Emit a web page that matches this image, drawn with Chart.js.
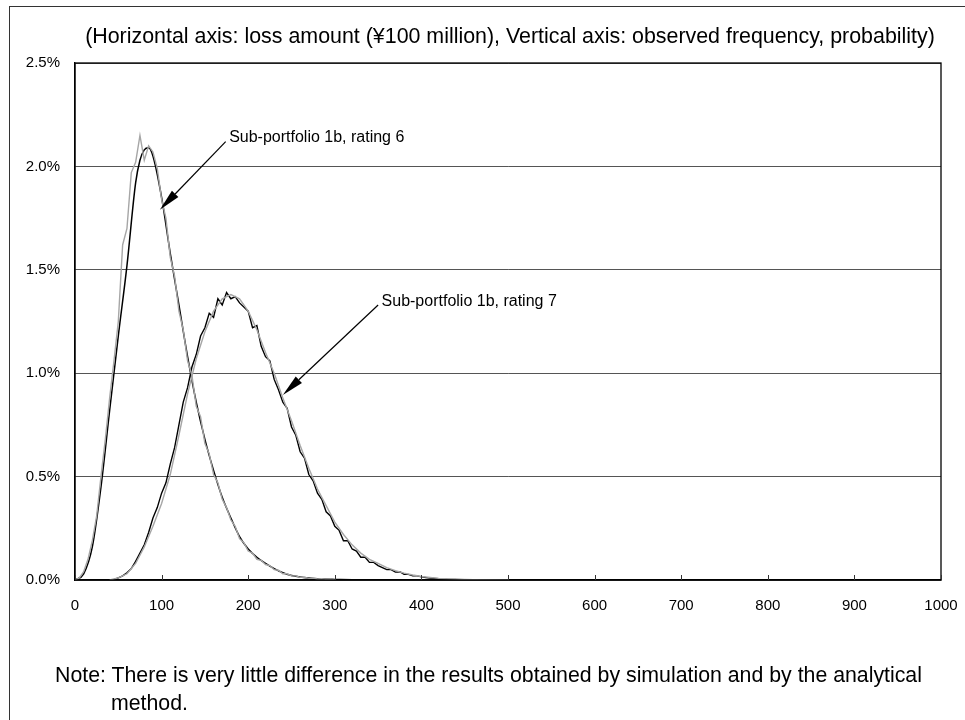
<!DOCTYPE html>
<html>
<head>
<meta charset="utf-8">
<script src="https://cdn.jsdelivr.net/npm/chart.js@4.4.1/dist/chart.umd.min.js"></script>
<style>
    html, body { margin: 0; padding: 0; background: #fff; overflow: hidden; }
    #wrap { position: relative; width: 965px; height: 720px; font-family: "Liberation Sans", Arial, sans-serif; }
    #frame { position: absolute; left: 9px; top: 6px; width: 1000px; height: 1000px; border-left: 1px solid #333; border-top: 1px solid #333; }
    #chart { position: absolute; left: 0; top: 0; }
    #title { position: absolute; left: 0; width: 1020px; top: 24px; text-align: center; font-size: 21.4px; color: #000; white-space: nowrap; }
    #note { position: absolute; left: 55px; top: 661px; font-size: 21.3px; color: #000; line-height: 28px; white-space: nowrap; }
    #note .cont { padding-left: 56px; }
</style>
</head>
<body>
<div id="wrap">
    <div id="frame"></div>
    <canvas id="chart" width="965" height="720"></canvas>
    <div id="title">(Horizontal axis: loss amount (¥100 million), Vertical axis: observed frequency, probability)</div>
    <div id="note">Note: There is very little difference in the results obtained by simulation and by the analytical<br><span class="cont">method.</span></div>
</div>
<script>
// --- Data (loss in ¥100 million, probability in %) ---
const xTicks = [0, 100, 200, 300, 400, 500, 600, 700, 800, 900, 1000];
const yTicks = [0, 0.5, 1.0, 1.5, 2.0, 2.5];

// rating 6, analytical (smooth, black)
const anaX6 = [0, 10, 20, 30, 40, 50, 60, 70, 75, 80, 85, 90, 100, 110, 120, 130, 140, 150, 160, 170, 180, 190, 200, 210, 220, 230, 240, 250, 260, 270, 280, 290, 300, 320, 350];
const anaY6 = [0, 0.03, 0.16, 0.45, 0.82, 1.18, 1.52, 1.92, 2.03, 2.08, 2.09, 2.05, 1.85, 1.58, 1.33, 1.08, 0.86, 0.68, 0.53, 0.40, 0.30, 0.21, 0.15, 0.11, 0.08, 0.055, 0.035, 0.022, 0.015, 0.01, 0.006, 0.004, 0.003, 0.001, 0];

// rating 6, simulation (noisy, gray)
const simX6 = [0, 5, 10, 15, 20, 25, 30, 35, 40, 45, 50, 55, 60, 65, 70, 75, 80, 85, 90, 95, 100, 105, 110, 115, 120, 125, 130, 135, 140, 145, 150, 155, 160, 165, 170, 175, 180, 185, 190, 195, 200, 205, 210, 215, 220, 225, 230, 235, 240, 245, 250, 255, 260, 265, 270, 275, 280, 285, 290, 295, 300];
const simY6 = [0, 0.01, 0.04, 0.10, 0.19, 0.31, 0.50, 0.68, 0.88, 1.06, 1.25, 1.62, 1.70, 1.97, 2.02, 2.15, 2.03, 2.10, 2.07, 1.99, 1.84, 1.75, 1.56, 1.47, 1.30, 1.21, 1.06, 0.99, 0.84, 0.79, 0.66, 0.61, 0.51, 0.47, 0.39, 0.35, 0.29, 0.26, 0.20, 0.18, 0.14, 0.13, 0.10, 0.095, 0.075, 0.07, 0.05, 0.047, 0.03, 0.03, 0.02, 0.02, 0.013, 0.014, 0.008, 0.009, 0.005, 0.006, 0.003, 0.004, 0.002];

// rating 7, analytical (smooth, gray)
const anaX7 = [40, 50, 60, 70, 80, 90, 100, 110, 120, 130, 140, 150, 160, 170, 180, 190, 200, 210, 220, 230, 240, 250, 260, 270, 280, 290, 300, 310, 320, 330, 340, 350, 360, 370, 380, 390, 400, 420, 440, 460, 500];
const anaY7 = [0, 0.01, 0.03, 0.08, 0.16, 0.26, 0.37, 0.51, 0.70, 0.90, 1.07, 1.20, 1.30, 1.36, 1.38, 1.36, 1.30, 1.21, 1.10, 1.00, 0.88, 0.77, 0.65, 0.54, 0.44, 0.36, 0.28, 0.22, 0.17, 0.13, 0.10, 0.08, 0.06, 0.045, 0.033, 0.024, 0.017, 0.008, 0.004, 0.002, 0];

// rating 7, simulation (noisy, black)
const simX7 = [40, 45, 50, 55, 60, 65, 70, 75, 80, 85, 90, 95, 100, 105, 110, 115, 120, 125, 130, 135, 140, 145, 150, 155, 160, 165, 170, 175, 180, 185, 190, 195, 200, 205, 210, 215, 220, 225, 230, 235, 240, 245, 250, 255, 260, 265, 270, 275, 280, 285, 290, 295, 300, 305, 310, 315, 320, 325, 330, 335, 340, 345, 350, 355, 360, 365, 370, 375, 380, 385, 390, 395, 400, 405, 410, 415, 420, 430, 440, 450];
const simY7 = [0, 0.003, 0.01, 0.02, 0.035, 0.055, 0.09, 0.13, 0.17, 0.23, 0.30, 0.35, 0.42, 0.47, 0.56, 0.64, 0.75, 0.86, 0.93, 1.03, 1.09, 1.18, 1.22, 1.29, 1.27, 1.36, 1.33, 1.39, 1.36, 1.37, 1.34, 1.32, 1.30, 1.22, 1.23, 1.13, 1.08, 1.06, 0.97, 0.92, 0.86, 0.83, 0.74, 0.70, 0.62, 0.59, 0.51, 0.48, 0.42, 0.39, 0.33, 0.31, 0.26, 0.24, 0.19, 0.19, 0.15, 0.14, 0.11, 0.11, 0.085, 0.085, 0.07, 0.06, 0.05, 0.05, 0.038, 0.04, 0.028, 0.027, 0.02, 0.02, 0.015, 0.012, 0.01, 0.008, 0.006, 0.004, 0.003, 0.002];

// annotations: label text, label anchor, arrow tail, arrow tip (data units)
const noteLabels = ['Sub-portfolio 1b, rating 6', 'Sub-portfolio 1b, rating 7'];
const noteText = [[178, 2.14], [354, 1.345]];
const noteTail = [[174, 2.12], [350, 1.33]];
const noteTip = [[98, 1.79], [240, 0.895]];

const toPoints = (xs, ys) => xs.map((x, i) => ({ x: x, y: ys[i] }));

const FONT = '"Liberation Sans", Arial, sans-serif';

// plot frame, inner x ticks, arrows + labels
const decorPlugin = {
    id: 'decor',
    afterDraw(chart) {
        const ctx = chart.ctx;
        const a = chart.chartArea;
        const xs = chart.scales.x, ys = chart.scales.y;
        ctx.save();
        ctx.strokeStyle = '#000';
        ctx.lineWidth = 1.3;
        ctx.strokeRect(a.left, a.top, a.right - a.left, a.bottom - a.top);
        // small inner tick marks on the x axis
        ctx.lineWidth = 1;
        ctx.strokeStyle = '#333';
        xTicks.forEach(v => {
            const px = Math.round(xs.getPixelForValue(v)) + 0.5;
            ctx.beginPath();
            ctx.moveTo(px, a.bottom);
            ctx.lineTo(px, a.bottom - 5);
            ctx.stroke();
        });
        // arrows
        noteLabels.forEach((txt, i) => {
            const tx = xs.getPixelForValue(noteTail[i][0]), ty = ys.getPixelForValue(noteTail[i][1]);
            const hx = xs.getPixelForValue(noteTip[i][0]), hy = ys.getPixelForValue(noteTip[i][1]);
            const ang = Math.atan2(hy - ty, hx - tx);
            const len = 22, half = 4.5;
            const bx = hx - len * Math.cos(ang), by = hy - len * Math.sin(ang);
            ctx.strokeStyle = '#000';
            ctx.fillStyle = '#000';
            ctx.lineWidth = 1.2;
            ctx.beginPath();
            ctx.moveTo(tx, ty);
            ctx.lineTo(bx, by);
            ctx.stroke();
            ctx.beginPath();
            ctx.moveTo(hx, hy);
            ctx.lineTo(bx + half * Math.sin(ang), by - half * Math.cos(ang));
            ctx.lineTo(bx - half * Math.sin(ang), by + half * Math.cos(ang));
            ctx.closePath();
            ctx.fill();
            ctx.font = '16px ' + FONT;
            ctx.textAlign = 'left';
            ctx.textBaseline = 'middle';
            ctx.fillText(txt, xs.getPixelForValue(noteText[i][0]), ys.getPixelForValue(noteText[i][1]));
        });
        ctx.restore();
    }
};

const lineStyle = (color, width) => ({
    borderColor: color,
    borderWidth: width,
    pointRadius: 0,
    fill: false,
    tension: 0
});

new Chart(document.getElementById('chart'), {
    type: 'line',
    data: {
        datasets: [
            Object.assign({ label: 'Rating 6 simulation', data: toPoints(simX6, simY6) }, lineStyle('#a6a6a6', 1.4)),
            Object.assign({ label: 'Rating 7 analytical', data: toPoints(anaX7, anaY7) }, lineStyle('#a6a6a6', 1.4)),
            Object.assign({ label: 'Rating 6 analytical', data: toPoints(anaX6, anaY6), cubicInterpolationMode: 'monotone' }, lineStyle('#000', 1.5)),
            Object.assign({ label: 'Rating 7 simulation', data: toPoints(simX7, simY7) }, lineStyle('#000', 1.4))
        ]
    },
    options: {
        responsive: false,
        animation: false,
        events: [],
        layout: { padding: { left: 0, right: 24, top: 63, bottom: 0 } },
        plugins: {
            legend: { display: false },
            tooltip: { enabled: false }
        },
        scales: {
            x: {
                type: 'linear',
                min: 0,
                max: 1000,
                afterFit: s => { s.height = 140; s.paddingLeft = 0; s.paddingRight = 0; },
                afterBuildTicks: s => { s.ticks = xTicks.map(v => ({ value: v })); },
                grid: { display: false, drawTicks: false },
                border: { display: true, color: '#000', width: 1.3 },
                ticks: {
                    color: '#000',
                    padding: 17,
                    maxRotation: 0,
                    font: { family: FONT, size: 15 },
                    callback: v => String(v)
                }
            },
            y: {
                min: 0,
                max: 2.5,
                afterFit: s => { s.width = 75; s.paddingTop = 0; s.paddingBottom = 0; },
                afterBuildTicks: s => { s.ticks = yTicks.map(v => ({ value: v })); },
                grid: { color: '#555', lineWidth: 1, drawTicks: false },
                border: { display: true, color: '#000', width: 1.3 },
                ticks: {
                    color: '#000',
                    padding: 15,
                    font: { family: FONT, size: 15 },
                    callback: v => v.toFixed(1) + '%'
                }
            }
        }
    },
    plugins: [decorPlugin]
});
</script>
</body>
</html>
